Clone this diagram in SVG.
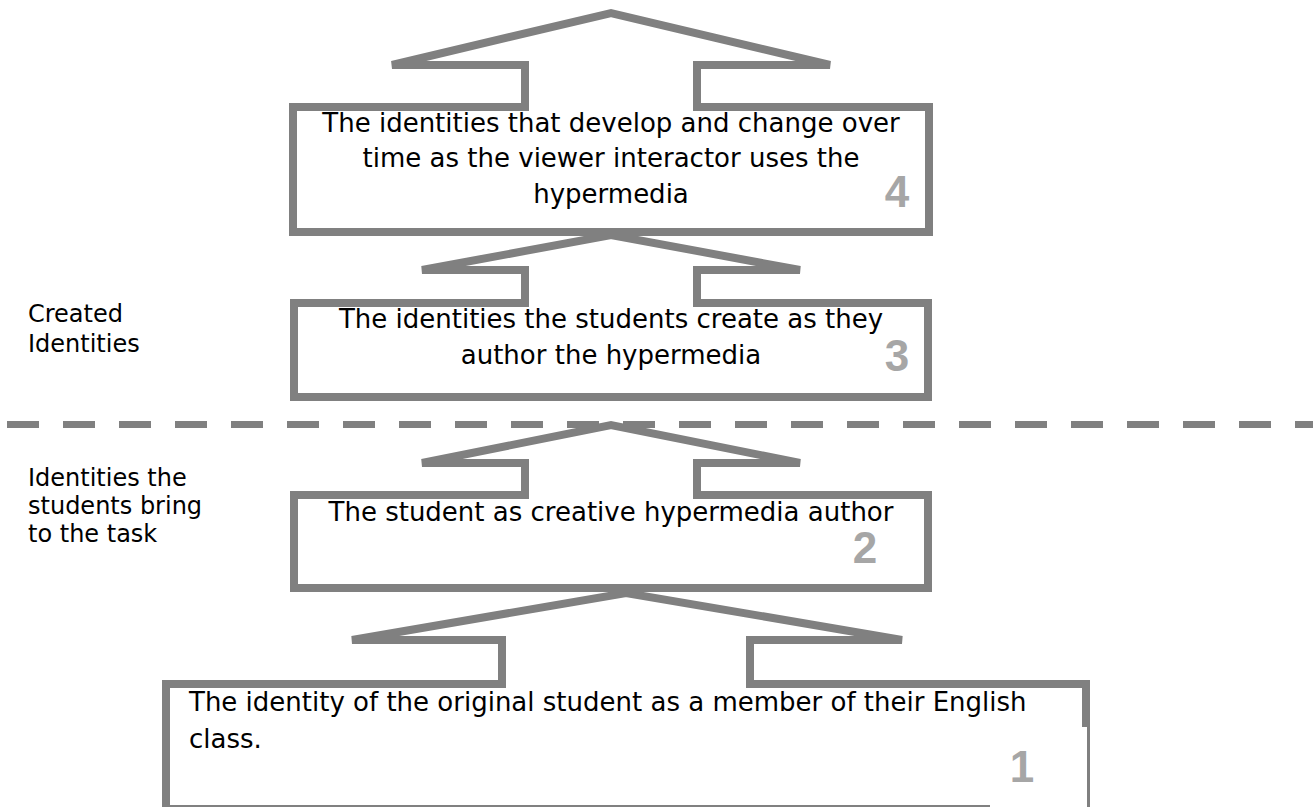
<svg xmlns="http://www.w3.org/2000/svg" width="1313" height="807" viewBox="0 0 1313 807">
  <style>
    .callout { fill: #ffffff; stroke: #808080; stroke-width: 8; stroke-linejoin: miter; stroke-miterlimit: 4; }
    .txt { font-family: "DejaVu Sans", "Noto Sans", sans-serif; font-size: 26px; fill: #000000; }
    .side { font-family: "DejaVu Sans", "Noto Sans", sans-serif; font-size: 24px; fill: #000000; }
    .num { font-family: "Liberation Sans", Arial, sans-serif; font-weight: bold; font-size: 44px; fill: #a6a6a6; text-anchor: middle; }
    .divider { stroke: #808080; stroke-width: 7; stroke-dasharray: 32 24; fill: none; }
  </style>

  <rect width="1313" height="807" fill="#ffffff"/>

  <!-- Level 1: the original student -->
  <g id="node-1">
    <polygon class="callout" points="166,684 502,684 502,640 352,640 626,593 902,640 750,640 750,684 1086,684 1086,809 166,809"/>
    <text class="txt" x="189" y="711">The identity of the original student as a member of their English</text>
    <text class="txt" x="189" y="748">class.</text>
    <rect x="990" y="727" width="97" height="82" fill="#ffffff"/>
    <text class="num" x="1022" y="782">1</text>
  </g>

  <!-- Level 2: creative hypermedia author -->
  <g id="node-2">
    <polygon class="callout" points="294,495 525,495 525,463 422,463 611,425 800,463 697,463 697,495 928,495 928,588 294,588"/>
    <text class="txt" x="611" y="521" text-anchor="middle">The student as creative hypermedia author</text>
    <text class="num" x="865" y="563">2</text>
  </g>

  <!-- Level 3: identities created while authoring -->
  <g id="node-3">
    <polygon class="callout" points="294,303 525,303 525,270 422,270 611,235 800,270 697,270 697,303 928,303 928,397 294,397"/>
    <text class="txt" x="611" y="328" text-anchor="middle">The identities the students create as they</text>
    <text class="txt" x="611" y="364" text-anchor="middle">author the hypermedia</text>
    <text class="num" x="897" y="371">3</text>
  </g>

  <!-- Level 4: identities that develop through use -->
  <g id="node-4">
    <polygon class="callout" points="293,107 525,107 525,65 392,65 611,13 830,65 697,65 697,107 929,107 929,232 293,232"/>
    <text class="txt" x="611" y="132" text-anchor="middle">The identities that develop and change over</text>
    <text class="txt" x="611" y="167" text-anchor="middle">time as the viewer interactor uses the</text>
    <text class="txt" x="611" y="203" text-anchor="middle">hypermedia</text>
    <text class="num" x="897" y="207">4</text>
  </g>

  <!-- Boundary between brought and created identities -->
  <g id="connectors">
    <line class="divider" x1="7" y1="424.5" x2="1313" y2="424.5"/>
  </g>

  <!-- Side labels -->
  <g id="label-created">
    <text class="side" x="28" y="322">Created</text>
    <text class="side" x="28" y="352">Identities</text>
  </g>
  <g id="label-brought">
    <text class="side" x="28" y="486">Identities the</text>
    <text class="side" x="28" y="514">students bring</text>
    <text class="side" x="28" y="542">to the task</text>
  </g>
</svg>
